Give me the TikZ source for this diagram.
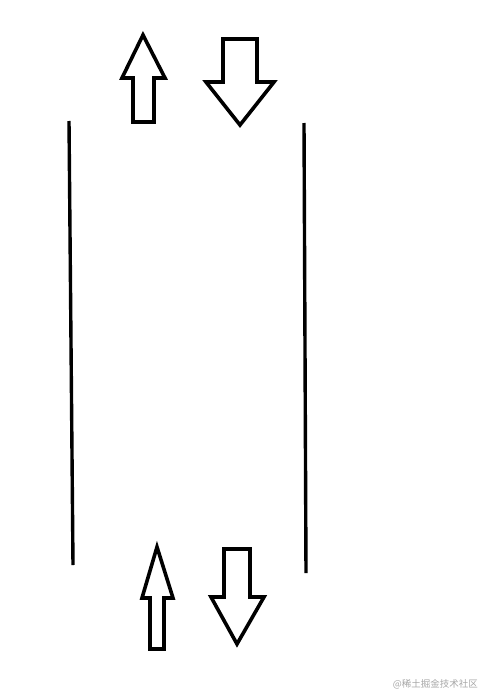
\documentclass[tikz,border=0pt]{standalone}
\usepackage{fontspec}
\newfontfamily\cjk{Noto Sans CJK SC}
\usepackage{tikz}
\usetikzlibrary{positioning}

\begin{document}
\begin{tikzpicture}[
        x=1pt, y=-1pt,
        wall/.style={draw=black, line width=3.4pt},
        arw/.style={draw=black, fill=white, line width=3.6pt, line join=miter},
        wmark/.style={text=black!35, font=\cjk\fontsize{9.5}{10}\selectfont, inner sep=0pt}
      ]
        \useasboundingbox (0,0) rectangle (481,696);

        % two walls
        \draw[wall] (69,121) -- (73,565);
        \draw[wall] (304,123) -- (306,573);

        % top arrows
        \draw[arw] (143,35) -- (165,78) -- (154,78) -- (154,122) -- (133,122)
          -- (133,78) -- (122,78) -- cycle;
        \draw[arw] (240,125) -- (274,82) -- (257,82) -- (257,39) -- (223,39)
          -- (223,82) -- (206,82) -- cycle;

        % bottom arrows
        \draw[arw] (157,547) -- (173,598) -- (164,598) -- (164,649) -- (150,649)
          -- (150,598) -- (142,598) -- cycle;
        \draw[arw] (237,644) -- (264,597) -- (250,597) -- (250,549) -- (224,549)
          -- (224,597) -- (211,597) -- cycle;

        \node[wmark, anchor=east] (wm) at (478,684) {@稀土掘金技术社区};
      \end{tikzpicture}
\end{document}
